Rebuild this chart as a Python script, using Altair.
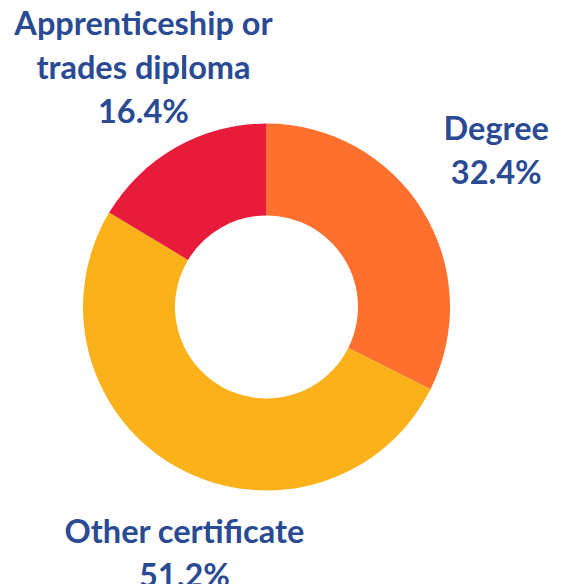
import altair as alt
import pandas as pd

categories = ["Degree", "Other certificate", "Apprenticeship or trades diploma"]
values = [32.4, 51.2, 16.4]
label_lines = [["Degree", "32.4%"], ["Other certificate", "51.2%"],
               ["Apprenticeship or", "trades diploma", "16.4%"]]
colors = ["#FF6F2E", "#FBB11A", "#E81B3A"]

df = pd.DataFrame({
    "category": categories,
    "value": values,
    "order": list(range(len(categories))),
    "label": label_lines,
})

CX, CY = 258.5, 299

base = alt.Chart(df).transform_window(
    end="sum(value)", sort=[alt.SortField("order")]
).transform_calculate(
    mid="datum.end - datum.value / 2"
)

arc = alt.Chart(df).mark_arc(outerRadius=183.5, innerRadius=91.5).encode(
    theta=alt.Theta("value:Q", stack=True),
    order=alt.Order("order:Q"),
    x=alt.value(CX),
    y=alt.value(CY),
    color=alt.Color("category:N", scale=alt.Scale(domain=categories, range=colors), legend=None),
)

font = "Lato"
txt_color = "#2A4B93"

def label_layer(cat, dx, dy, clip):
    return base.transform_filter(alt.datum.category == cat).mark_text(
        radius=270, dx=dx, dy=dy, font=font, fontWeight="bold", fontSize=32.5,
        lineHeight=44, color=txt_color, align="center", baseline="middle", clip=clip
    ).encode(
        theta=alt.Theta("mid:Q", stack=False, scale=alt.Scale(domain=[0, 100])),
        x=alt.value(CX),
        y=alt.value(CY),
        text="label",
    )

labels = alt.layer(
    label_layer("Degree", 0, -35, False),
    label_layer("Other certificate", 48, -11, True),
    label_layer("Apprenticeship or trades diploma", 10, -47, False),
)

chart = alt.layer(arc, labels).resolve_scale(theta="independent").properties(
    width=551, height=576, padding=0
).configure_view(stroke=None)

chart.save("out.html", embed_options={"renderer": "svg", "actions": False})
